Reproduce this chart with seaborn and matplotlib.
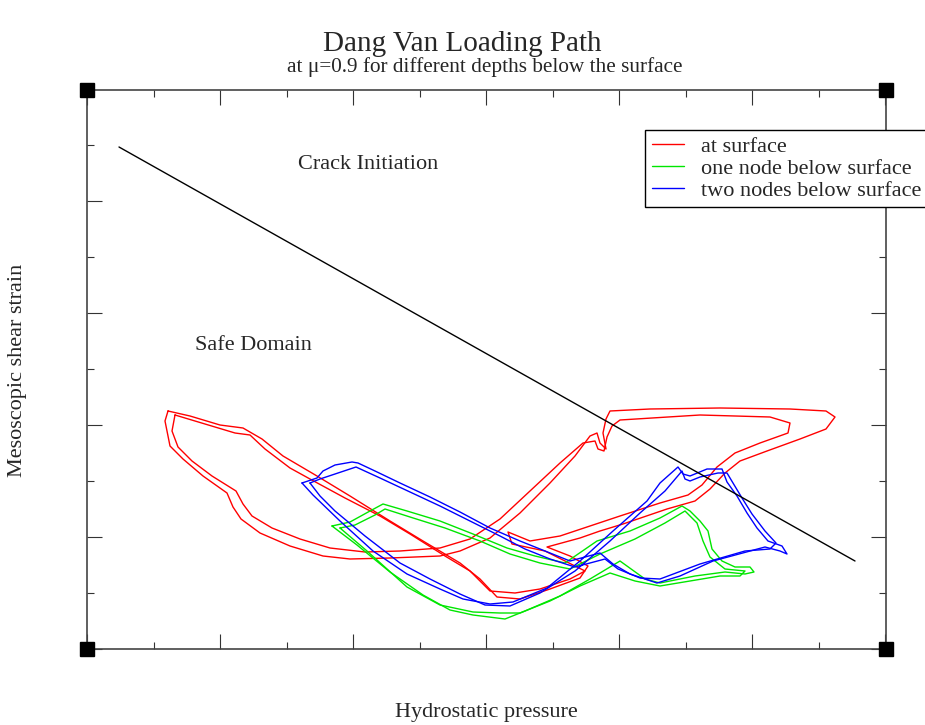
import matplotlib
matplotlib.use("Agg")
import matplotlib.pyplot as plt
from matplotlib.lines import Line2D
from matplotlib.ticker import MultipleLocator
import seaborn as sns
import pandas as pd

# ---------------- data (arbitrary units; no tick labels on the original) ----------------
title = "Dang Van Loading Path"
subtitle = "at \u03bc=0.9 for different depths below the surface"
xlabel = "Hydrostatic pressure"
ylabel = "Mesoscopic shear strain"
series_names = ["at surface", "one node below surface", "two nodes below surface"]
series_colors = ["#ff0000", "#00e600", "#0000ff"]

red_pass1 = [(81,238),(78,228),(83,203),(96,190),(116,173),(140,156),(146,142),(154,130),(173,116),
             (203,103),(236,93),(263,90),(303,91),(353,93),(373,98),(403,111),(433,136),(463,166),
             (488,193),(503,213),(510,216),(513,206),(519,200),(516,216),(519,230),(523,238),
             (563,240),(633,241),(703,240),(739,238),(748,232),(739,220),(713,210),(680,198),
             (653,188),(638,176),(623,160),(608,148),(580,140),(536,125),(513,118),(493,111),
             (460,102),(483,93),(501,83),(493,71),(463,60),(433,50),(410,52),(393,70),(373,86),
             (336,108),(303,128),(263,153),(230,173),(213,183),(196,193),(175,210),(156,221),
             (133,224),(103,233),(81,238)]
red_pass2 = [(88,234),(85,218),(91,202),(105,188),(125,173),(149,158),(156,145),(165,133),(185,121),
             (213,110),(243,101),(278,97),(313,98),(353,101),(383,110),(413,130),(443,158),
             (473,186),(496,206),(508,208),(511,200),(517,198),(520,212),(525,223),(533,229),
             (613,234),(683,232),(703,226),(701,216),(673,206),(648,196),(630,182),(615,164),
             (601,154),(573,146),(533,133),(503,123),(473,113),(443,108),(421,117),(425,105),
             (458,98),(478,88),(498,78),(483,70),(453,60),(428,56),(403,58),(383,78),(358,93),
             (323,115),(293,133),(258,151),(223,170),(203,181),(178,200),(163,214),(148,216),
             (118,225),(98,231),(88,234)]

green_pass1 = [(245,123),(263,127),(283,138),(296,145),(320,138),(353,128),(386,115),(420,101),
               (448,93),(478,86),(510,108),(543,118),(573,131),(595,143),(603,138),(613,128),
               (621,118),(625,100),(635,88),(648,82),(663,82),(667,77),(658,75),(638,77),(608,73),
               (573,66),(558,70),(533,88),(503,70),(473,53),(438,38),(418,30),(386,34),(363,39),
               (336,54),(303,77),(270,104),(245,123)]
green_pass2 = [(253,121),(268,124),(288,134),(298,140),(323,132),(358,121),(393,108),(423,95),
               (453,86),(483,80),(513,95),(548,110),(578,126),(598,138),(610,126),(616,108),
               (623,92),(638,80),(658,78),(653,73),(633,73),(603,68),(573,63),(548,68),(523,76),
               (493,63),(463,48),(433,36),(413,36),(386,37),(353,44),(320,62),(280,98),(253,121)]

blue_pass1 = [(215,166),(230,171),(236,178),(248,184),(265,187),(271,186),(288,178),(313,166),
              (343,152),(373,137),(403,121),(433,108),(458,98),(483,88),(498,92),(513,96),
              (526,85),(543,75),(570,66),(593,73),(626,88),(678,102),(693,98),(700,95),(695,103),
              (681,108),(670,121),(660,136),(650,153),(640,167),(635,180),(620,180),(603,173),
              (596,175),(591,182),(573,166),(560,148),(526,118),(493,88),(460,61),(426,47),
              (403,45),(376,50),(353,60),(320,75),(286,98),(253,128),(226,154),(215,166)]
blue_pass2 = [(223,166),(233,170),(269,182),(293,171),(323,157),(353,143),(383,128),(413,113),
              (438,100),(463,90),(488,82),(518,90),(531,80),(553,71),(573,70),(613,85),(658,98),
              (683,100),(689,106),(678,118),(665,135),(655,151),(646,166),(640,176),(631,176),
              (613,172),(603,168),(598,170),(595,178),(578,158),(553,136),(523,108),(488,78),
              (453,56),(423,43),(398,44),(373,55),(343,70),(313,86),(278,113),(248,138),
              (233,153),(223,166)]

threshold_x = [32, 768]
threshold_y = [502, 88]

label_crack = ("Crack Initiation", 281, 484)
label_safe = ("Safe Domain", 166, 303)

# ---------------- build tidy frame ----------------
rows = []
for name, passes in [(series_names[0], [red_pass1, red_pass2]),
                     (series_names[1], [green_pass1, green_pass2]),
                     (series_names[2], [blue_pass1, blue_pass2])]:
    for k, p in enumerate(passes):
        for i, (x, y) in enumerate(p):
            rows.append({"x": x, "y": y, "series": name, "unit": f"{name}-{k}", "order": i})
df = pd.DataFrame(rows)

sns.set_style("white")
plt.rcParams["font.family"] = ["Liberation Serif", "DejaVu Serif"]

W, H = 925, 725
fig = plt.figure(figsize=(W / 100, H / 100), dpi=100)
ax_l, ax_r, ax_t, ax_b = 87, 886, 90, 649
ax = fig.add_axes([ax_l / W, 1 - ax_b / H, (ax_r - ax_l) / W, (ax_b - ax_t) / H])

sns.lineplot(data=df, x="x", y="y", hue="series", units="unit", estimator=None, sort=False,
             palette=dict(zip(series_names, series_colors)), hue_order=series_names,
             lw=1.0, legend=False, ax=ax)
sns.lineplot(x=threshold_x, y=threshold_y, color="black", lw=1.0, ax=ax, sort=False)

ax.set_xlim(0, 799)
ax.set_ylim(0, 559)
ax.xaxis.set_major_locator(MultipleLocator(133))
ax.xaxis.set_minor_locator(MultipleLocator(66.5))
ax.yaxis.set_major_locator(MultipleLocator(112))
ax.yaxis.set_minor_locator(MultipleLocator(56))
ax.tick_params(which="both", direction="in", top=True, right=True, bottom=True, left=True,
               labelbottom=False, labelleft=False, color="#333333", width=0.8)
ax.tick_params(which="major", length=11)
ax.tick_params(which="minor", length=5)
for s in ax.spines.values():
    s.set_color("#444444")
    s.set_linewidth(1.2)
ax.set_xlabel("")
ax.set_ylabel("")

# corner squares
for cx, cy in [(0, 0), (0, 1), (1, 0), (1, 1)]:
    ax.plot([cx], [cy], marker="s", markersize=9.5, color="black", transform=ax.transAxes,
            clip_on=False, zorder=10)

for txt, x, y in [label_crack, label_safe]:
    ax.text(x, y, txt, ha="center", va="center", fontsize=16)

fig.text(462 / W, 1 - 51 / H, title, ha="center", va="baseline", fontsize=21)
fig.text(485 / W, 1 - 72 / H, subtitle, ha="center", va="baseline", fontsize=15.3)
fig.text(486 / W, 1 - 712 / H, xlabel, ha="center", va="center", fontsize=16)
fig.text(18 / W, 1 - 370 / H, ylabel, ha="center", va="center", rotation=90, fontsize=16)

handles = [Line2D([0], [0], color=c, lw=1.0) for c in series_colors]
leg = fig.legend(handles, series_names, loc="upper left",
                 bbox_to_anchor=(645 / W, 1 - 130 / H), fontsize=16,
                 frameon=True, fancybox=False, handlelength=1.45, handletextpad=0.75,
                 labelspacing=0.05, borderpad=0.3, borderaxespad=0)
leg.get_frame().set_edgecolor("black")
leg.get_frame().set_linewidth(1.0)
leg.get_frame().set_alpha(1)

fig.savefig("out.png", dpi=100)
